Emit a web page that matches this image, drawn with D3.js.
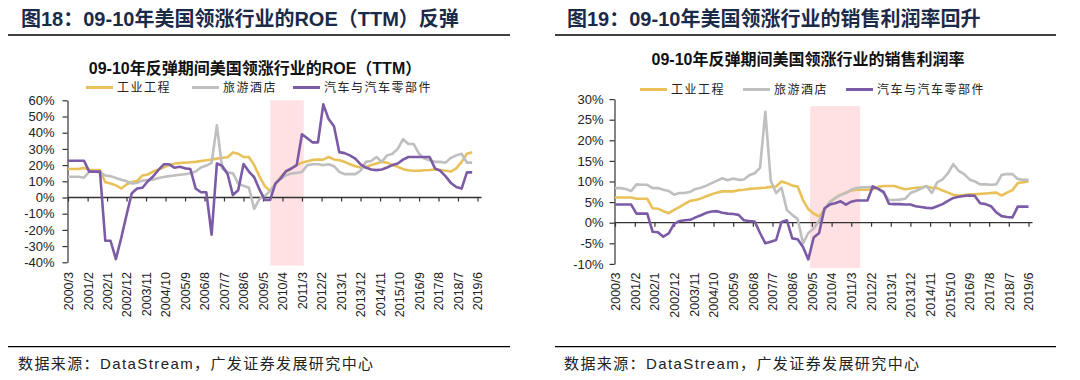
<!DOCTYPE html>
<html><head><meta charset="utf-8">
<script src="https://cdn.jsdelivr.net/npm/d3@7"></script>
<style>body{margin:0;background:#fff;} svg{display:block}</style>
</head><body><svg id="c" width="1080" height="380"></svg>
<script>
// ---------- data ----------
const tickLabels = ["2000/3","2001/2","2002/1","2002/12","2003/11","2004/10","2005/9","2006/8","2007/7","2008/6","2009/5","2010/4","2011/3","2012/2","2013/1","2013/12","2014/11","2015/10","2016/9","2017/8","2018/7","2019/6"];
const seriesNames = ["工业工程","旅游酒店","汽车与汽车零部件"];
const firstQuarter = "2000/3";

// ROE (TTM), %, quarterly from 2000/3
const roeIndustrial = [17.6,17.6,17.6,18.3,17,17,17,9.4,8.7,7.5,5.6,8,9.6,10.2,13.6,14.2,16,17.3,18.7,20,20.8,21.3,21.5,21.8,22,22.5,23,23.5,24,24.5,24.8,27.8,27,25,25,20,13,7,4,8,12.8,15.8,18,20,21.5,22.4,23.2,23.4,23.4,25,23.5,23,22,20.5,19.3,18.5,18.7,20,21,22,21.5,20,19,17.5,16.8,16.5,16.5,16.8,17,17.3,17,16.5,16,18,22,27,28];
const roeHotel = [12.8,12.8,12.8,12.2,16,16,15.5,13.6,13.2,12,11,10,8.6,9,10.4,10.8,11,12,12.6,13.2,13.6,14,14.4,15,16,18.5,19.7,21.4,44.5,18,15.5,15,8.6,7.2,6,-7,-1,1,4,8.7,11.5,13.8,14.8,15.2,15.8,20,20.5,20.5,20,20.5,19.3,15.8,14.4,14.4,14.4,16.5,22,22.5,25,22,26,27,30,36,33,33,27,24,23,22,22,21.5,24.5,26,27,21.5,21.5];
const roeAuto = [22.7,22.7,22.7,22.7,16,16,16,-26.7,-26.7,-38,-25,-10.8,2.6,5.6,6,10,13,17,20.5,20.5,18.4,19,18,17.6,5.6,3.2,3.2,-23,21,19.5,14.5,1.5,4.5,20.7,16,12.5,5,-1.5,-1.5,8.7,11.8,16.3,17.9,20,39,36.6,34,34,57.5,48.4,44,28,27.4,26,24,20.5,18.5,17.3,16.9,17.3,18.5,20,21,23.4,25,25,25,25,25,18,16.5,13,9,6.5,5.5,15.5,15.5];

// Net profit margin, %, quarterly from 2000/3
const mgIndustrial = [6.1,6.1,6.1,6.1,5.8,5.8,5.8,3.5,3.4,2.8,2.3,3.1,3.8,4.6,5.3,5.5,5.9,6.4,6.9,7.3,7.6,7.6,7.6,7.9,8,8.2,8.3,8.4,8.5,8.7,8.8,10,9.6,9,8.8,5.5,3.3,2.2,1.5,3.1,5,6,6.8,7.3,7.8,8,8,8,8.1,8.7,8.9,8.9,8.9,8.5,8.1,8.3,8.5,8.6,8.8,8.5,8.4,7.8,7.3,6.8,6.6,6.7,6.9,6.9,7,7.1,7.2,7.3,6.6,7.3,7.9,9.6,9.8,10];
const mgHotel = [8.4,8.4,8.2,7.7,9.3,9.2,9.2,8.4,8.4,8,7.7,6.8,7.2,7.2,7.5,8.2,8.5,9,9.6,10.2,10.8,10.3,10.7,10.4,10.5,11.5,12,13.3,26.9,10.2,7.2,8.5,3.1,1.9,0.9,-5,-2.5,-1.4,0.5,3.1,5,6,6.7,7.2,8,8.4,8.6,8.6,8.8,8.2,7.2,5.5,5.5,5.6,5.8,7.2,7.7,8.3,8.9,7.2,9.8,10.5,12,14.2,12.6,11.8,10.5,10,9.3,9.3,9.2,9.3,11.6,11.8,11.8,10.6,10.4,10.4];
const mgAuto = [4.4,4.4,4.4,4.4,2.2,2.2,2.2,-2.2,-2.3,-3.4,-2.6,-0.3,0.4,0.6,0.7,1.3,1.8,2.4,2.7,2.8,2.4,2.2,2.1,1.9,0.6,0.4,0.3,-2.5,-5,-4.6,-4.2,0.2,0.6,-3.8,-4,-5.9,-8.9,-3.6,-2.5,3.5,4.4,4.7,5.2,4.4,5.1,5.4,5.4,5.4,8.8,8.2,7.5,4.6,4.5,4.5,4.4,4.4,4,3.8,3.6,3.5,4,4.5,5.3,6,6.3,6.5,6.6,6.5,4.7,4.5,4,2.5,1.6,1.4,1.3,3.9,3.9,3.9];

const roeTicks = [60,50,40,30,20,10,0,-10,-20,-30,-40];
const mgTicks = [30,25,20,15,10,5,0,-5,-10];
const roeShade = {from:"2009/9", to:"2011/4", low:-42, high:60};
const mgShade = {from:"2009/4", to:"2011/8", low:-11, high:28.3};

// ---------- drawing ----------
const colors = ["#E9C158","#BFBFBF","#7B5BA6"];
const parse = d3.timeParse("%Y/%m");
const svg = d3.select("#c");
const LAT = "'Liberation Sans', Arial, 'Noto Sans CJK SC', sans-serif";

function header(x0, x1, title, tx){
  svg.append("text").attr("x",tx).attr("y",26).attr("font-family",LAT)
    .attr("font-size",20).attr("font-weight","bold").attr("fill","#1B2A48").text(title);
  svg.append("line").attr("x1",x0).attr("x2",x1).attr("y1",35).attr("y2",35)
    .attr("stroke","#000").attr("stroke-width",1.3);
  svg.append("line").attr("x1",x0).attr("x2",x1).attr("y1",346.7).attr("y2",346.7)
    .attr("stroke","#000").attr("stroke-width",1.3);
  svg.append("text").attr("x",tx-3).attr("y",369).attr("font-family",LAT)
    .attr("font-size",15).attr("letter-spacing",1.4).attr("fill","#222")
    .text("数据来源：DataStream，广发证券发展研究中心");
}

function panel(cfg){
  const g = svg.append("g");
  const start = parse(firstQuarter);
  const xs = d3.scaleTime().domain([start, parse(tickLabels[tickLabels.length-1])]).range([cfg.x0, cfg.x1]);
  const ys = d3.scaleLinear().domain(cfg.domain).range([cfg.yBot, cfg.yTop]);

  // subtitle
  g.append("text").attr("x",cfg.subX).attr("y",cfg.subY).attr("text-anchor","middle")
    .attr("font-family",LAT).attr("font-size",16).attr("font-weight","bold").attr("fill","#111")
    .text(cfg.subtitle);

  // legend
  const lg = g.append("g");
  seriesNames.forEach((n,i)=>{
    lg.append("line").attr("x1",cfg.legX[i]).attr("x2",cfg.legX[i]+27)
      .attr("y1",cfg.legY).attr("y2",cfg.legY).attr("stroke",colors[i]).attr("stroke-width",3);
    lg.append("text").attr("x",cfg.legX[i]+31).attr("y",cfg.legY+4.5)
      .attr("font-family","'Noto Sans CJK SC', sans-serif").attr("font-size",12)
      .attr("letter-spacing",1.5).attr("fill","#222").text(n);
  });

  // shade
  g.append("rect").attr("x",xs(parse(cfg.shade.from))).attr("y",ys(cfg.shade.high))
    .attr("width",xs(parse(cfg.shade.to))-xs(parse(cfg.shade.from)))
    .attr("height",ys(cfg.shade.low)-ys(cfg.shade.high)).attr("fill","#FFE1E4");

  // y axis
  const ya = g.append("g").attr("transform",`translate(${cfg.x0-0.5},0)`)
    .call(d3.axisLeft(ys).tickValues(cfg.ticks).tickFormat(d=>d+"%").tickSize(5).tickSizeOuter(0).tickPadding(cfg.pad));
  ya.select(".domain").attr("stroke","#333").attr("stroke-width",1.2);
  ya.selectAll(".tick line").attr("stroke","#333").attr("stroke-width",1.2);
  ya.selectAll("text").attr("font-family",LAT).attr("font-size",13).attr("fill","#222");

  // x axis ticks on zero line
  const dates = tickLabels.map(parse);
  const xa = g.append("g").attr("transform",`translate(0,${ys(0)})`)
    .call(d3.axisBottom(xs).tickValues(dates).tickFormat("").tickSize(4).tickSizeOuter(0));
  xa.select(".domain").remove();
  xa.selectAll(".tick line").attr("stroke","#333").attr("stroke-width",1.2);
  g.append("line").attr("x1",cfg.x0-0.5).attr("x2",cfg.x1+4).attr("y1",ys(0)).attr("y2",ys(0))
    .attr("stroke","#333").attr("stroke-width",1.3);

  // x labels at bottom
  const xl = g.append("g").attr("transform",`translate(0,${cfg.labY})`)
    .call(d3.axisBottom(xs).tickValues(dates).tickFormat((d,i)=>tickLabels[i]).tickSize(0));
  xl.select(".domain").remove();
  xl.selectAll("text").attr("font-family",LAT).attr("font-size",12.5).attr("fill","#222")
    .attr("text-anchor","end").attr("dy","0.35em").attr("y",0).attr("x",0)
    .attr("transform","rotate(-90)");

  // lines
  cfg.series.forEach((vals,i)=>{
    const pts = vals.map((v,k)=>[d3.timeMonth.offset(start,3*k), v]);
    g.append("path").datum(pts).attr("fill","none").attr("stroke",colors[i])
      .attr("stroke-width",2.6).attr("stroke-linejoin","round")
      .attr("d", d3.line().x(d=>xs(d[0])).y(d=>ys(d[1])));
  });
}

header(8, 510, "图18：09-10年美国领涨行业的ROE（TTM）反弹", 21);
header(555, 1056, "图19：09-10年美国领涨行业的销售利润率回升", 567);

panel({x0:68, x1:477.5, yTop:100.3, yBot:262.3, domain:[-40,60], ticks:roeTicks, pad:8,
  shade:roeShade, series:[roeIndustrial, roeHotel, roeAuto], labY:272,
  subtitle:"09-10年反弹期间美国领涨行业的ROE（TTM）", subX:255, subY:73.5,
  legX:[86,192,293], legY:87.5});
panel({x0:615, x1:1028.5, yTop:99.1, yBot:263.9, domain:[-10,30], ticks:mgTicks, pad:6,
  shade:mgShade, series:[mgIndustrial, mgHotel, mgAuto], labY:272.5,
  subtitle:"09-10年反弹期间美国领涨行业的销售利润率", subX:808, subY:64.5,
  legX:[640,743,846], legY:89.5});
</script></body></html>
